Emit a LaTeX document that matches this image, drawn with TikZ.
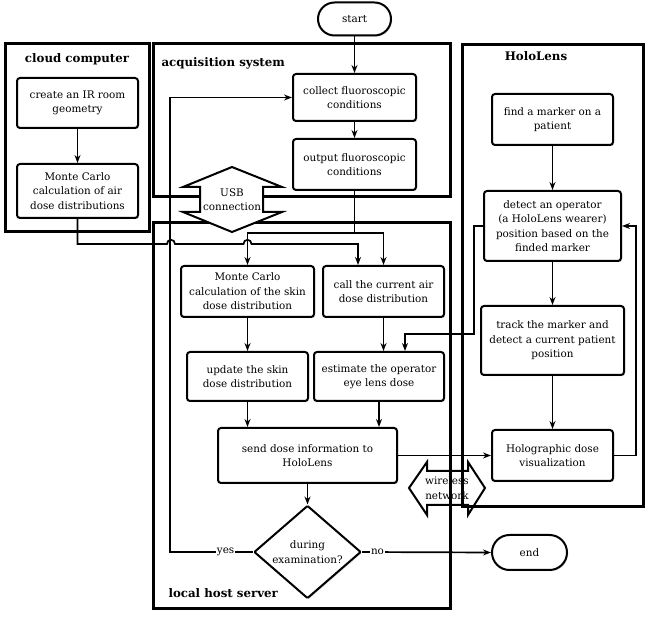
\documentclass[tikz,border=0pt]{standalone}
\usepackage{fontspec}
\setmainfont{DejaVu Serif}
\usetikzlibrary{arrows.meta,shapes.geometric,shapes.misc,shadows}
\begin{document}
\begin{tikzpicture}[x=1pt,y=-1pt,
  container/.style={draw,line width=3pt,inner sep=0pt},
  proc/.style={draw,line width=2pt,rounded corners=3pt,fill=white,align=center,inner sep=0pt,
     font=\fontsize{10.4}{14.5}\selectfont,
     drop shadow={opacity=0.25,shadow xshift=1.2pt,shadow yshift=-1.2pt}},
  term/.style={proc,rounded rectangle,rounded corners=0pt},
  ttl/.style={font=\fontsize{11.8}{13}\selectfont\bfseries},
  conn/.style={line width=1.7pt,-{Stealth[length=8pt,width=6pt]}},
  lnk/.style={line width=1.7pt},
  lbl/.style={fill=white,inner sep=1pt,font=\fontsize{10.4}{12}\selectfont},
  bigarrow/.style={draw,line width=2pt,fill=white,line join=miter},
  ]
\useasboundingbox (0,0) rectangle (649,617);

% wireless network arrow (under container borders)
\draw[bigarrow] (409,488) -- (427,462) -- (427,471) -- (468,471) -- (468,462) -- (485,488)
  -- (468,515) -- (468,505) -- (427,505) -- (427,515) -- cycle;

% containers
\node[container,minimum width=144pt,minimum height=188pt] (cloud) at (77,138) {};
\node[container,minimum width=297pt,minimum height=153pt] (acq) at (301.5,120.5) {};
\node[container,minimum width=297pt,minimum height=386pt] (local) at (301.5,416) {};
\node[container,minimum width=181pt,minimum height=462pt] (holo) at (552.5,276) {};

\node[ttl] (tcloud) at (77,59) {cloud computer};
\node[ttl,anchor=west] (tacq) at (158,63) {acquisition system};
\node[ttl] (tholo) at (536,56) {HoloLens};
\node[ttl,anchor=west] (tlocal) at (165,593) {local host server};

% USB connection arrow
\draw[bigarrow] (232,167) -- (282,187) -- (263,187) -- (263,212) -- (282,212) -- (232,232)
  -- (183,212) -- (200,212) -- (200,187) -- (183,187) -- cycle;
\node[align=center,font=\fontsize{10.4}{14}\selectfont,inner sep=0pt] (usb) at (232,200) {USB\\connection};

% process nodes
\node[term,minimum width=73pt,minimum height=33pt] (start) at (354.5,19) {start};
\node[proc,minimum width=121pt,minimum height=50pt] (create) at (77.5,103) {create an IR room\\geometry};
\node[proc,minimum width=121pt,minimum height=54pt] (mcair) at (77.5,191) {Monte Carlo\\calculation of air\\dose distributions};
\node[proc,minimum width=123pt,minimum height=47pt] (collect) at (354.5,97.5) {collect fluoroscopic\\conditions};
\node[proc,minimum width=123pt,minimum height=51pt] (output) at (354.5,164.5) {output fluoroscopic\\conditions};
\node[proc,minimum width=133pt,minimum height=51pt] (mcskin) at (247.5,291.5) {Monte Carlo\\calculation of the skin\\dose distribution};
\node[proc,minimum width=121pt,minimum height=51pt] (call) at (383.5,291.5) {call the current air\\dose distribution};
\node[proc,minimum width=121pt,minimum height=49pt] (update) at (247.5,376.5) {update the skin\\dose distribution};
\node[proc,minimum width=130pt,minimum height=49pt] (estimate) at (379,376.5) {estimate the operator\\eye lens dose};
\node[proc,minimum width=179pt,minimum height=55pt] (send) at (307.5,455.5) {send dose information to\\HoloLens};
\node[proc,diamond,rounded corners=1pt,minimum width=107pt,minimum height=93pt] (dia) at (307.5,552) {during\\examination?};
\node[term,minimum width=75pt,minimum height=35pt] (end) at (529.5,552.5) {end};
\node[proc,minimum width=121pt,minimum height=51pt] (find) at (552.5,119.5) {find a marker on a\\patient};
\node[proc,minimum width=137pt,minimum height=70pt] (detect) at (552.5,226) {detect an operator\\(a HoloLens wearer)\\position based on the\\finded marker};
\node[proc,minimum width=143pt,minimum height=69pt] (track) at (552.5,340.5) {track the marker and\\detect a current patient\\position};
\node[proc,minimum width=121pt,minimum height=51pt] (holovis) at (552.5,455.5) {Holographic dose\\visualization};

\node[align=center,font=\fontsize{10.4}{15}\selectfont,inner sep=0pt] (wl) at (447,488) {wireless\\network};

% connectors
\draw[conn] (start) -- (collect);
\draw[conn] (collect) -- (output);
\draw[conn] (create) -- (mcair);
\draw[conn] (find) -- (detect);
\draw[conn] (detect) -- (track);
\draw[conn] (track) -- (holovis);
\draw[conn] (mcskin) -- (update);
\draw[conn] (call.south) -- (call.south |- estimate.north);
\draw[conn] (update.south) -- (update.south |- send.north);
\draw[conn] (estimate.south) -- (estimate.south |- send.north);
\draw[conn] (send) -- (dia);
\draw[conn] (send) -- (holovis);

% yes loop back
\draw[conn] (dia.west) -- node[lbl,pos=0.33]{yes} ++(-83,0) |- (collect.west);
\draw[conn] (dia.east) -- node[lbl,pos=0.12]{no} (end.west);

% output branches
\coordinate (br) at (354.5,233);
\draw[lnk] (output.south) -- (br);
\draw[conn] (br) -| (mcskin.north);
\draw[conn] (br) -| (call.north);

% air dose distributions to call (with hops)
\draw[conn] (mcair.south) -- (77.5,244) -- (167,244) .. controls (167,238.5) and (175,238.5) .. (175,244)
  -- (243.5,244) .. controls (243.5,238.5) and (251.5,238.5) .. (251.5,244)
  -- (358,244) -- ([xshift=-25.5pt]call.north);

% operator position to estimate
\draw[conn] (detect.west) -- (474,226) -- (474,334) -- (405,334) -- ([xshift=26pt]estimate.north);

% HoloLens loop
\draw[conn] (holovis.east) -- ++(22,0) |- (detect.east);

\end{tikzpicture}
\end{document}
